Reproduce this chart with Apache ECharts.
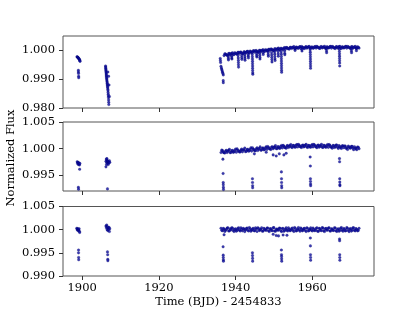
<!DOCTYPE html>
<html><head><meta charset="utf-8">
<script src="https://cdn.jsdelivr.net/npm/echarts@6/dist/echarts.min.js"></script>
<style>html,body{margin:0;padding:0;background:#fff}#c{width:415px;height:311px}</style>
</head><body><div id="c"></div>
<script>
// ---- data ----
const xTicks = [1900, 1920, 1940, 1960];
const yTicks1 = [0.980, 0.990, 1.000];
const yTicks2 = [0.995, 1.000, 1.005];
const yTicks3 = [0.990, 0.995, 1.000, 1.005];
const xLabel = 'Time (BJD) - 2454833';
const yLabel = 'Normalized Flux';

const timesA = [
1936.2,1936.6,1937.0,1937.4,1937.8,1938.2,1938.6,1939.0,1939.4,1939.8,
1940.2,1940.6,1941.0,1941.4,1941.8,1942.2,1942.6,1943.0,1943.4,1943.8,
1944.2,1944.6,1945.0,1945.4,1945.8,1946.2,1946.6,1947.0,1947.4,1947.8,
1948.2,1948.6,1949.0,1949.4,1949.8,1950.2,1950.6,1951.0,1951.4,1951.8,
1952.2,1952.6,1953.0,1953.4,1953.8,1954.2,1954.6,1955.0,1955.4,1955.8,
1956.2,1956.6,1957.0,1957.4,1957.8,1958.2,1958.6,1959.0,1959.4,1959.8,
1960.2,1960.6,1961.0,1961.4,1961.8,1962.2,1962.6,1963.0,1963.4,1963.8,
1964.2,1964.6,1965.0,1965.4,1965.8,1966.2,1966.6,1967.0,1967.4,1967.8,
1968.2,1968.6,1969.0,1969.4,1969.8,1970.2,1970.6,1971.0,1971.4,1971.8,
1972.2];
const timesB = [
1936.4,1936.8,1937.2,1937.6,1938.0,1938.4,1938.8,1939.2,1939.6,1940.0,
1940.4,1940.8,1941.2,1941.6,1942.0,1942.4,1942.8,1943.2,1943.6,1944.0,
1944.4,1944.8,1945.2,1945.6,1946.0,1946.4,1946.8,1947.2,1947.6,1948.0,
1948.4,1948.8,1949.2,1949.6,1950.0,1950.4,1950.8,1951.2,1951.6,1952.0,
1952.4,1952.8,1953.2,1953.6,1954.0,1954.4,1954.8,1955.2,1955.6,1956.0,
1956.4,1956.8,1957.2,1957.6,1958.0,1958.4,1958.8,1959.2,1959.6,1960.0,
1960.4,1960.8,1961.2,1961.6,1962.0,1962.4,1962.8,1963.2,1963.6,1964.0,
1964.4,1964.8,1965.2,1965.6,1966.0,1966.4,1966.8,1967.2,1967.6,1968.0,
1968.4,1968.8,1969.2,1969.6,1970.0,1970.4,1970.8,1971.2,1971.6,1972.0];

// panel 1: raw flux
const rawA = [
0.99450,0.99240,0.99820,0.99870,0.99830,0.99890,0.99845,0.99900,0.99860,0.99920,
0.99875,0.99930,0.99890,0.99945,0.99900,0.99955,0.99910,0.99965,0.99920,0.99975,
0.99930,0.99985,0.99940,0.99995,0.99950,1.00005,0.99960,1.00015,0.99975,1.00025,
0.99985,1.00035,0.99995,1.00045,1.00005,1.00055,1.00015,1.00065,1.00025,1.00075,
1.00035,1.00085,1.00045,1.00095,1.00055,1.00105,1.00065,1.00110,1.00070,1.00115,
1.00075,1.00120,1.00070,1.00115,1.00075,1.00120,1.00080,1.00125,1.00080,1.00120,
1.00075,1.00125,1.00080,1.00120,1.00078,1.00128,1.00082,1.00120,1.00075,1.00125,
1.00085,1.00130,1.00080,1.00125,1.00078,1.00122,1.00085,1.00130,1.00080,1.00125,
1.00085,1.00132,1.00080,1.00125,1.00082,1.00128,1.00078,1.00120,1.00085,1.00125,
1.00080];
const rawB = [
0.99340,0.99150,0.99880,0.99845,0.99830,0.99895,0.99875,0.99915,0.99855,0.99900,
0.99875,0.99935,0.99935,0.99900,0.99880,0.99945,0.99930,0.99970,0.99910,0.99955,
0.99930,0.99985,0.99990,0.99955,0.99935,1.00000,0.99985,1.00025,0.99965,1.00010,
0.99985,1.00040,1.00045,1.00010,0.99990,1.00055,1.00040,1.00080,1.00020,1.00065,
1.00040,1.00095,1.00100,1.00065,1.00045,1.00110,1.00095,1.00135,1.00070,1.00110,
1.00080,1.00130,1.00135,1.00100,1.00065,1.00130,1.00105,1.00140,1.00075,1.00115,
1.00085,1.00135,1.00140,1.00100,1.00070,1.00130,1.00110,1.00145,1.00075,1.00115,
1.00090,1.00140,1.00135,1.00100,1.00065,1.00130,1.00105,1.00140,1.00070,1.00115,
1.00090,1.00140,1.00135,1.00100,1.00070,1.00130,1.00105,1.00140,1.00075,1.00110];
const rawExtra = [
[1936.0,0.99720],[1936.05,0.99650],[1936.1,0.99580],[1936.3,0.99390],[1936.5,0.99290],[1936.7,0.99200],[1936.8,0.98880],[1936.78,0.98950],
[1938.1,0.99780],[1938.12,0.99720],[1938.15,0.99670],
[1939.0,0.99800],[1939.02,0.99740],[1939.05,0.99700],
[1940.65,0.99820],[1940.7,0.99740],[1940.72,0.99660],[1940.74,0.99580],[1940.76,0.99500],[1940.78,0.99420],
[1941.6,0.99820],[1941.62,0.99750],[1941.65,0.99690],
[1942.4,0.99850],[1942.42,0.99780],[1942.45,0.99720],[1942.47,0.99660],
[1943.3,0.99860],[1943.32,0.99800],[1943.35,0.99740],
[1944.35,0.99860],[1944.38,0.99780],[1944.4,0.99700],[1944.42,0.99620],[1944.43,0.99540],[1944.44,0.99460],[1944.45,0.99380],[1944.46,0.99300],[1944.48,0.99220],[1944.5,0.99170],
[1945.5,0.99880],[1945.52,0.99820],[1945.55,0.99770],
[1946.3,0.99900],[1946.32,0.99830],[1946.35,0.99760],[1946.37,0.99700],
[1947.2,0.99920],[1947.22,0.99860],
[1948.5,0.99930],[1948.52,0.99860],[1948.55,0.99800],
[1949.4,0.99920],[1949.42,0.99840],[1949.45,0.99760],[1949.47,0.99680],[1949.5,0.99600],
[1950.2,0.99950],[1950.22,0.99870],[1950.25,0.99790],[1950.27,0.99710],[1950.3,0.99650],
[1951.1,0.99960],[1951.12,0.99880],[1951.15,0.99800],
[1951.9,0.99950],[1951.92,0.99870],[1951.94,0.99790],[1951.95,0.99710],[1951.96,0.99630],[1951.97,0.99550],[1951.98,0.99470],[1951.99,0.99390],[1952.0,0.99310],[1952.02,0.99240],
[1952.8,0.99980],[1952.82,0.99900],[1952.85,0.99850],
[1955.5,1.00050],[1955.52,1.00000],
[1957.3,1.00040],[1957.32,0.99980],
[1959.45,1.00020],[1959.48,0.99940],[1959.5,0.99860],[1959.51,0.99780],[1959.52,0.99700],[1959.53,0.99620],[1959.54,0.99540],[1959.55,0.99460],[1959.56,0.99380],
[1963.7,1.00050],[1963.72,0.99980],[1963.75,0.99920],
[1967.05,1.00040],[1967.08,0.99960],[1967.1,0.99880],[1967.11,0.99800],[1967.12,0.99720],[1967.13,0.99640],[1967.14,0.99560],[1967.16,0.99460],
[1970.2,1.00050],[1970.22,0.99980],[1970.25,0.99920],
[1971.5,1.00060],[1971.52,0.99990]];
const rawEarly = [
[1898.65,0.99780],[1898.75,0.99770],[1898.85,0.99760],[1898.95,0.99745],[1899.05,0.99730],[1899.15,0.99710],[1899.25,0.99690],[1899.35,0.99670],[1899.4,0.99640],[1899.45,0.99620],
[1899.0,0.99310],[1899.02,0.99250],[1899.05,0.99200],[1899.08,0.99100],[1899.1,0.99050],
[1906.10,0.99460],[1906.12,0.99420],[1906.15,0.99380],[1906.18,0.99340],[1906.2,0.99300],[1906.22,0.99260],[1906.25,0.99220],[1906.28,0.99180],[1906.3,0.99140],[1906.33,0.99100],
[1906.36,0.99060],[1906.4,0.99020],[1906.43,0.98980],[1906.46,0.98940],[1906.5,0.98900],[1906.53,0.98860],[1906.56,0.98820],[1906.6,0.98780],[1906.63,0.98740],[1906.66,0.98700],
[1906.7,0.98650],[1906.73,0.98600],[1906.76,0.98540],[1906.8,0.98480],[1906.83,0.98420],[1906.86,0.98360],[1906.9,0.98280],[1906.92,0.98200],[1906.95,0.98120],
[1906.7,0.99250],[1906.9,0.99100],[1907.0,0.98800],[1907.1,0.98400]];

// panel 2: spot-corrected flux
const detA = [
0.99925,0.99960,0.99920,0.99955,0.99925,0.99965,0.99920,0.99958,0.99928,0.99962,
0.99930,0.99968,0.99935,0.99970,0.99938,0.99975,0.99940,0.99980,0.99948,0.99985,
0.99952,0.99990,0.99958,0.99995,0.99962,1.00000,0.99968,1.00008,0.99975,1.00015,
0.99985,1.00020,0.99990,1.00028,0.99995,1.00032,1.00000,1.00035,1.00005,1.00040,
1.00010,1.00045,1.00015,1.00050,1.00020,1.00055,1.00025,1.00060,1.00030,1.00065,
1.00030,1.00062,1.00028,1.00060,1.00030,1.00065,1.00030,1.00060,1.00028,1.00062,
1.00030,1.00068,1.00032,1.00060,1.00026,1.00058,1.00025,1.00062,1.00028,1.00056,
1.00022,1.00060,1.00025,1.00058,1.00020,1.00065,1.00022,1.00055,1.00018,1.00050,
1.00015,1.00048,1.00012,1.00045,1.00010,1.00040,1.00005,1.00035,0.99998,1.00030,
0.99995];
const detB = [
0.99970,0.99932,0.99915,0.99967,0.99949,0.99986,0.99929,0.99966,0.99938,0.99990,
0.99993,0.99955,0.99937,0.99989,0.99972,1.00009,0.99951,0.99988,0.99961,1.00013,
1.00015,0.99977,0.99960,1.00012,0.99994,1.00031,0.99974,1.00011,0.99983,1.00035,
1.00038,1.00000,0.99982,1.00034,1.00017,1.00054,0.99996,1.00033,1.00006,1.00058,
1.00060,1.00022,1.00005,1.00057,1.00039,1.00076,1.00019,1.00055,1.00025,1.00075,
1.00078,1.00040,1.00020,1.00065,1.00045,1.00080,1.00020,1.00055,1.00025,1.00075,
1.00078,1.00040,1.00015,1.00065,1.00045,1.00080,1.00020,1.00055,1.00025,1.00075,
1.00075,1.00035,1.00007,1.00055,1.00032,1.00065,1.00003,1.00035,1.00003,1.00050,
1.00048,1.00005,0.99983,1.00030,1.00008,1.00040,0.99978,1.00010,0.99978,1.00025];
const detExtra = [
[1936.7,0.99800],[1936.75,0.99530],[1936.78,0.99360],[1936.8,0.99320],[1936.82,0.99270],[1936.85,0.99230],
[1944.4,0.99430],[1944.42,0.99360],[1944.44,0.99300],[1944.46,0.99260],
[1951.95,0.99560],[1951.98,0.99430],[1952.0,0.99360],[1952.02,0.99300],[1952.04,0.99260],
[1959.45,0.99840],[1959.5,0.99670],[1959.52,0.99430],[1959.54,0.99380],[1959.56,0.99330],[1959.58,0.99300],
[1967.1,0.99810],[1967.13,0.99750],[1967.16,0.99430],[1967.18,0.99370],[1967.2,0.99320],[1967.22,0.99300],
[1949.8,0.99880],[1950.6,0.99860],[1951.4,0.99900],[1952.6,0.99880],[1953.2,0.99910],[1944.9,0.99900],[1948.0,0.99930]];
const detEarly = [
[1898.7,0.99750],[1898.8,0.99720],[1898.9,0.99740],[1899.0,0.99700],[1899.1,0.99730],[1899.2,0.99710],[1899.3,0.99690],[1899.4,0.99720],[1899.35,0.99610],[1899.0,0.99270],[1899.05,0.99235],
[1906.2,0.99760],[1906.3,0.99800],[1906.4,0.99740],[1906.5,0.99780],[1906.6,0.99720],[1906.7,0.99760],[1906.8,0.99700],[1906.9,0.99750],[1907.0,0.99730],[1907.1,0.99770],[1907.2,0.99740],
[1906.45,0.99810],[1906.35,0.99700],[1906.2,0.99655],[1906.6,0.99240]];

// panel 3: fully normalized flux
const flatA = [
1.00031,0.99978,1.00012,0.99985,1.00034,0.99972,1.00018,1.00041,0.99981,1.00007,
0.99968,1.00025,0.99990,1.00038,0.99975,1.00012,0.99995,1.00036,0.99970,1.00021,
0.99988,1.00030,0.99975,1.00015,1.00042,0.99980,1.00008,0.99966,1.00028,0.99992,
1.00035,0.99974,1.00019,0.99985,1.00040,0.99970,1.00010,0.99988,1.00033,0.99978,
1.00024,0.99965,1.00012,0.99990,1.00038,0.99976,1.00020,0.99985,1.00045,0.99972,
1.00016,0.99994,1.00037,0.99975,1.00022,0.99983,1.00040,0.99970,1.00013,0.99990,
1.00036,0.99978,1.00025,0.99968,1.00030,0.99987,1.00043,0.99974,1.00018,0.99990,
1.00035,0.99972,1.00020,0.99985,1.00041,0.99977,1.00010,0.99966,1.00032,0.99988,
1.00026,0.99973,1.00044,0.99982,1.00015,0.99969,1.00038,0.99984,1.00022,0.99975,
1.00030];
const flatB = [
0.99985,1.00028,0.99962,1.00010,1.00040,0.99975,0.99995,1.00033,0.99960,1.00018,
0.99990,1.00042,0.99970,1.00005,1.00030,0.99958,1.00022,0.99988,1.00045,0.99968,
1.00012,0.99980,1.00038,0.99962,1.00025,0.99995,1.00040,0.99972,1.00008,0.99985,
1.00035,0.99960,1.00020,0.99978,1.00044,0.99966,1.00014,0.99992,1.00030,0.99958,
1.00026,0.99982,1.00040,0.99970,1.00010,0.99988,1.00036,0.99962,1.00022,0.99980,
1.00045,0.99968,1.00015,0.99990,1.00032,0.99960,1.00024,0.99984,1.00038,0.99972,
1.00006,0.99986,1.00042,0.99964,1.00018,0.99978,1.00034,0.99960,1.00028,0.99992,
1.00040,0.99970,1.00012,0.99982,1.00036,0.99962,1.00020,0.99988,1.00044,0.99968,
1.00016,0.99980,1.00030,0.99958,1.00024,0.99990,1.00040,0.99974,1.00010,0.99984];
const flatExtra = [
[1936.75,0.99630],[1936.78,0.99450],[1936.8,0.99400],[1936.82,0.99350],[1936.84,0.99320],
[1944.4,0.99500],[1944.42,0.99440],[1944.44,0.99380],[1944.46,0.99320],
[1951.95,0.99560],[1951.98,0.99460],[1952.0,0.99420],[1952.02,0.99370],[1952.04,0.99320],
[1959.5,0.99820],[1959.52,0.99650],[1959.54,0.99460],[1959.56,0.99400],[1959.58,0.99340],
[1967.12,0.99800],[1967.14,0.99760],[1967.16,0.99460],[1967.18,0.99400],[1967.2,0.99340],
[1937.0,0.99890],[1950.6,0.99875],[1951.2,0.99865],[1952.4,0.99885],[1953.4,0.99880],[1949.8,0.99900]];
const flatEarly = [
[1898.6,1.00030],[1898.7,1.00000],[1898.8,1.00020],[1898.9,0.99980],[1899.0,1.00010],[1899.1,0.99990],[1899.2,1.00020],[1899.3,0.99960],[1899.35,0.99940],
[1899.05,0.99560],[1899.05,0.99500],[1899.08,0.99400],[1899.1,0.99350],
[1906.2,1.00080],[1906.3,1.00040],[1906.4,1.00100],[1906.5,1.00000],[1906.6,1.00060],[1906.7,0.99980],[1906.8,1.00040],[1906.9,1.00010],[1907.0,1.00050],[1907.1,0.99960],[1907.2,1.00020],
[1906.6,0.99520],[1906.65,0.99460],[1906.68,0.99360],[1906.7,0.99330]];

// ---- chart ----
const FONT = '"DejaVu Serif", serif';
const FS = 11.5;
const panels = [
  {a: rawA, b: rawB, extra: rawExtra, early: rawEarly, min: 0.980, max: 1.005, ticks: yTicks1, top: 36, h: 72},
  {a: detA, b: detB, extra: detExtra, early: detEarly, min: 0.992, max: 1.005, ticks: yTicks2, top: 122, h: 69},
  {a: flatA, b: flatB, extra: flatExtra, early: flatEarly, min: 0.990, max: 1.005, ticks: yTicks3, top: 206.5, h: 69.5}
];
const grids = [], xAxes = [], yAxes = [], series = [];
panels.forEach((p, i) => {
  grids.push({left: 63, width: 311, top: p.top, height: p.h, show: true,
    borderColor: '#555', borderWidth: 1, backgroundColor: 'transparent', containLabel: false});
  xAxes.push({type: 'value', gridIndex: i, min: 1895, max: 1976.1, splitLine: {show: false},
    axisLine: {show: false},
    axisTick: {show: true, length: 4, customValues: xTicks, lineStyle: {color: '#333'}},
    axisLabel: {show: i === 2, customValues: xTicks, margin: 6, color: '#000', fontFamily: FONT, fontSize: FS,
      formatter: v => String(Math.round(v))}});
  yAxes.push({type: 'value', gridIndex: i, min: p.min, max: p.max, splitLine: {show: false},
    axisLine: {show: false},
    axisTick: {show: true, length: 4, customValues: p.ticks, lineStyle: {color: '#333'}},
    axisLabel: {show: true, customValues: p.ticks, margin: 8, color: '#000', fontFamily: FONT, fontSize: FS,
      formatter: v => Number(v).toFixed(3)}});
  const data = timesA.map((t, k) => [t, p.a[k]])
    .concat(timesB.map((t, k) => [t, p.b[k]]), p.extra, p.early);
  series.push({type: 'scatter', xAxisIndex: i, yAxisIndex: i, data: data, symbolSize: 2.6,
    itemStyle: {color: '#0c0ca0', borderColor: '#000060', borderWidth: 0.3}, silent: true});
});
const chart = echarts.init(document.getElementById('c'), null, {renderer: 'canvas'});
chart.setOption({
  animation: false,
  grid: grids, xAxis: xAxes, yAxis: yAxes, series: series,
  graphic: [
    {type: 'text', x: 218.5, y: 296, style: {text: xLabel, font: FS + 'px ' + FONT, fill: '#000',
     textAlign: 'center', textVerticalAlign: 'top'}},
    {type: 'text', x: 5, y: 158, rotation: Math.PI / 2, style: {text: yLabel, font: FS + 'px ' + FONT, fill: '#000',
     textAlign: 'center', textVerticalAlign: 'top'}}
  ]
});
</script></body></html>
